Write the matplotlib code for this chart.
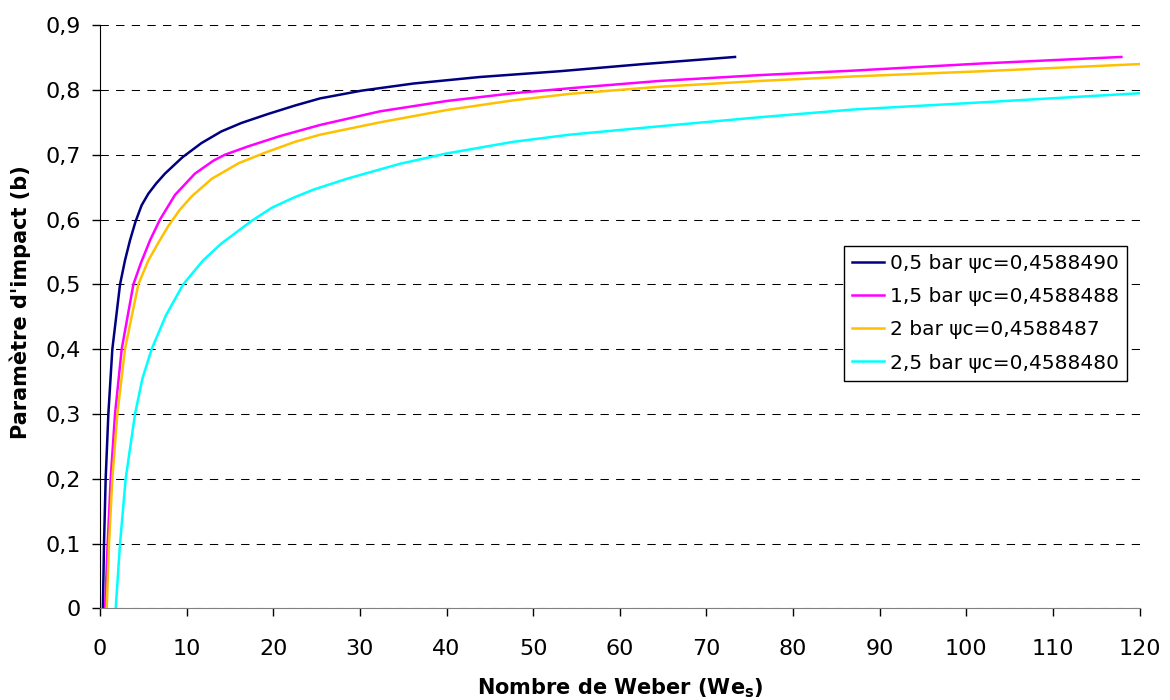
import matplotlib.pyplot as plt

# Nombre de Weber (We_s) et paramètre d'impact (b)
we_05 = [0.33, 0.46, 0.65, 0.96, 1.42, 2.31, 2.88, 3.46, 4.1, 4.8, 5.58, 6.5, 7.5, 9.5, 11.7,
         14.0, 16.3, 19.4, 22.5, 25.4, 30.2, 36.2, 43.8, 53.1, 62.7, 73.3]
b_05 = [0.0, 0.1, 0.2, 0.3, 0.4, 0.5, 0.537, 0.568, 0.597, 0.622, 0.64, 0.656, 0.671, 0.696, 0.718,
        0.736, 0.749, 0.763, 0.776, 0.787, 0.799, 0.81, 0.82, 0.829, 0.84, 0.851]

we_15 = [0.58, 0.88, 1.23, 1.73, 2.5, 3.85, 4.69, 5.77, 6.92, 8.65, 10.96, 13.1, 14.4,
         17.1, 20.8, 25.4, 32.3, 40, 47.7, 55.4, 64.6, 76.2, 87.1, 101.9, 117.9]
b_15 = [0.0, 0.1, 0.2, 0.3, 0.4, 0.5, 0.532, 0.568, 0.6, 0.638, 0.671, 0.691, 0.7,
        0.713, 0.729, 0.746, 0.767, 0.783, 0.795, 0.804, 0.814, 0.823, 0.83, 0.841, 0.851]

we_2 = [0.77, 1.04, 1.42, 2.0, 2.88, 4.42, 5.58, 6.81, 7.88, 9.2, 10.6, 12.9, 16.0, 19.0,
        22.5, 25.4, 32.3, 40, 47.7, 54.2, 64.6, 76.2, 87.1, 101.9, 120]
b_2 = [0.0, 0.1, 0.2, 0.3, 0.4, 0.5, 0.537, 0.566, 0.59, 0.615, 0.636, 0.663, 0.687, 0.703,
       0.72, 0.731, 0.75, 0.769, 0.784, 0.794, 0.805, 0.814, 0.821, 0.829, 0.84]

we_25 = [1.81, 2.31, 2.96, 4.04, 4.9, 5.96, 7.6, 9.6, 11.9, 14.0, 17.5, 19.8, 22.2, 24.6, 28.5,
         34.6, 40, 47.7, 54.2, 64.6, 76.2, 87.1, 101.9, 120]
b_25 = [0.0, 0.1, 0.2, 0.3, 0.355, 0.4, 0.452, 0.5, 0.537, 0.563, 0.598, 0.618, 0.633, 0.646, 0.663,
        0.686, 0.702, 0.72, 0.731, 0.744, 0.758, 0.77, 0.781, 0.795]

labels = ["0,5 bar \u03c8c=0,4588490", "1,5 bar \u03c8c=0,4588488",
          "2 bar \u03c8c=0,4588487", "2,5 bar \u03c8c=0,4588480"]
colors = ["#000080", "#ff00ff", "#ffc000", "#00ffff"]

x_ticks = list(range(0, 121, 10))
y_ticks = [i / 10 for i in range(10)]
y_tick_labels = ["0"] + ["0,%d" % i for i in range(1, 10)]

fig = plt.figure(figsize=(11.7, 7), dpi=100)
ax = fig.add_axes([0.0855, 0.131, 0.8885, 0.833])

series = [(we_05, b_05), (we_15, b_15), (we_2, b_2), (we_25, b_25)]
for (x, y), lab, col in zip(series, labels, colors):
    ax.plot(x, y, color=col, lw=1.8, label=lab, solid_joinstyle="round")

ax.set_xlim(0, 120)
ax.set_ylim(0, 0.9)
ax.set_xticks(x_ticks)
ax.set_yticks(y_ticks)
ax.set_yticklabels(y_tick_labels)
ax.tick_params(labelsize=16, length=6, width=1, direction="out")
ax.tick_params(axis="x", pad=16)
ax.tick_params(axis="y", pad=8)
ax.yaxis.grid(True, color="black", linestyle=(0, (8, 7)), lw=0.75)
ax.set_axisbelow(True)
ax.spines["top"].set_visible(False)
ax.spines["right"].set_visible(False)
ax.spines["bottom"].set_color("#808080")

ax.set_xlabel("Nombre de Weber (We$_\\mathregular{s}$)", fontsize=15, fontweight="bold", va="center")
ax.xaxis.set_label_coords(0.5, -0.137)
ax.set_ylabel("Paramètre d'impact (b)", fontsize=15, fontweight="bold", va="center")
ax.yaxis.set_label_coords(-0.077, 0.525)

leg = ax.legend(loc="upper left", bbox_to_anchor=(0.716, 0.621), borderaxespad=0,
                fontsize=14.5, frameon=True, fancybox=False, edgecolor="black",
                framealpha=1, handlelength=1.55, handletextpad=0.3,
                borderpad=0.4, labelspacing=0.7)
leg.get_frame().set_linewidth(1)

fig.savefig("out.png", dpi=100)
